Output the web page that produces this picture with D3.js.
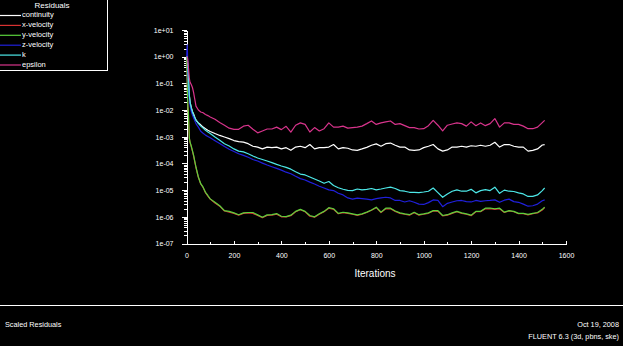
<!DOCTYPE html>
<html>
<head>
<meta charset="utf-8">
<script src="https://cdn.jsdelivr.net/npm/d3@7/dist/d3.min.js"></script>
<style>
  html, body { margin: 0; padding: 0; background: #000; }
  svg { display: block; }
  text { font-family: "Liberation Sans", Arial, sans-serif; fill: #fff; }
</style>
</head>
<body>
<svg id="chart" width="623" height="346"></svg>
<script>
// Iteration numbers at which residuals were recorded
const iterations = [
  1,2,3,4,5,6,8,10,12,15,
  20,25,30,35,40,50,60,70,80,90,
  100,120,140,160,180,200,220,
  240,260,280,300,320,340,360,380,400,420,
  440,460,480,500,520,540,560,580,600,620,
  640,660,680,700,720,740,760,780,800,820,
  840,860,880,900,920,940,960,980,1000,1020,
  1040,1060,1080,1100,1120,1140,1160,1180,1200,1220,
  1240,1260,1280,1300,1320,1340,1360,1380,1400,1420,
  1440,1460,1480,1500,1510
];

const continuity = [
  1.0,1.0,0.89,0.71,0.50,0.35,0.16,0.063,0.035,0.020,
  0.0126,8.9e-3,7.1e-3,5.4e-3,4.2e-3,3.3e-3,2.8e-3,2.3e-3,2.0e-3,1.74e-3,
  1.58e-3,1.32e-3,1.12e-3,9.8e-4,8.5e-4,7.2e-4,6.6e-4,
  6.3e-4,5.5e-4,4.4e-4,4.1e-4,3.5e-4,4.1e-4,3.9e-4,4.1e-4,3.5e-4,3.9e-4,
  3.1e-4,4.1e-4,4.4e-4,3.9e-4,5.1e-4,3.5e-4,3.9e-4,3.9e-4,4.1e-4,5.1e-4,
  3.5e-4,3.9e-4,3.7e-4,3.2e-4,3.1e-4,3.5e-4,4.0e-4,4.8e-4,5.4e-4,4.4e-4,
  5.5e-4,5.8e-4,4.8e-4,4.1e-4,4.1e-4,3.2e-4,3.1e-4,3.2e-4,3.9e-4,4.4e-4,
  5.1e-4,3.5e-4,2.9e-4,3.2e-4,4.1e-4,4.1e-4,4.4e-4,4.1e-4,4.6e-4,4.4e-4,
  4.8e-4,4.4e-4,4.8e-4,6.2e-4,4.1e-4,5.1e-4,5.1e-4,4.4e-4,4.1e-4,4.1e-4,
  2.9e-4,3.1e-4,3.5e-4,4.9e-4,5.1e-4
];

const xVelocity = [
  1.0,0.45,0.14,0.045,0.02,0.012,7e-3,2.3e-3,8.5e-4,6.0e-4,
  4.3e-4,2.9e-4,1.9e-4,1.15e-4,7.0e-5,3.0e-5,1.7e-5,1.25e-5,8.0e-6,6.0e-6,
  4.6e-6,3.3e-6,2.5e-6,1.65e-6,1.5e-6,1.35e-6,1.15e-6,
  1.35e-6,1.4e-6,1.35e-6,1.12e-6,9.3e-7,1.12e-6,1.15e-6,1.25e-6,1.0e-6,1.0e-6,
  1.1e-6,1.55e-6,1.85e-6,1.55e-6,1.05e-6,9.6e-7,1.25e-6,1.55e-6,2.1e-6,1.9e-6,
  1.3e-6,1.42e-6,1.35e-6,1.25e-6,1.12e-6,1.25e-6,1.45e-6,1.75e-6,2.2e-6,1.45e-6,
  2.0e-6,2.0e-6,1.6e-6,1.35e-6,1.25e-6,1.15e-6,1.42e-6,1.15e-6,1.25e-6,1.35e-6,
  1.65e-6,1.6e-6,1.08e-6,1.15e-6,1.35e-6,1.55e-6,1.35e-6,1.25e-6,1.1e-6,1.55e-6,
  1.55e-6,2.0e-6,2.0e-6,1.9e-6,2.0e-6,1.45e-6,1.65e-6,1.55e-6,1.3e-6,1.3e-6,
  1.18e-6,1.3e-6,1.4e-6,1.8e-6,2.2e-6
];

const yVelocity = [
  1.0,0.4,0.12,0.04,0.02,0.013,8e-3,2.5e-3,9e-4,6.3e-4,
  4.5e-4,3.0e-4,2.0e-4,1.2e-4,7.2e-5,3.1e-5,1.74e-5,1.29e-5,8.3e-6,6.3e-6,
  4.7e-6,3.5e-6,2.6e-6,1.7e-6,1.6e-6,1.4e-6,1.2e-6,
  1.4e-6,1.45e-6,1.45e-6,1.18e-6,9.6e-7,1.18e-6,1.2e-6,1.32e-6,1.05e-6,1.02e-6,
  1.15e-6,1.6e-6,1.9e-6,1.6e-6,1.12e-6,1.0e-6,1.3e-6,1.6e-6,2.2e-6,2.0e-6,
  1.35e-6,1.48e-6,1.4e-6,1.29e-6,1.18e-6,1.29e-6,1.5e-6,1.8e-6,2.3e-6,1.5e-6,
  2.1e-6,2.1e-6,1.66e-6,1.4e-6,1.29e-6,1.2e-6,1.48e-6,1.2e-6,1.29e-6,1.4e-6,
  1.7e-6,1.7e-6,1.12e-6,1.2e-6,1.4e-6,1.6e-6,1.4e-6,1.29e-6,1.15e-6,1.6e-6,
  1.6e-6,2.1e-6,2.1e-6,2.0e-6,2.1e-6,1.5e-6,1.7e-6,1.6e-6,1.35e-6,1.35e-6,
  1.23e-6,1.35e-6,1.45e-6,1.9e-6,2.3e-6
];

const zVelocity = [
  1.0,2.0,2.8,1.5,0.6,0.25,0.09,0.045,0.025,0.015,
  9.0e-3,6.5e-3,5.0e-3,4.0e-3,3.1e-3,2.3e-3,1.6e-3,1.35e-3,1.15e-3,1.02e-3,
  9.1e-4,7.1e-4,5.6e-4,4.3e-4,3.4e-4,2.8e-4,2.3e-4,
  2.0e-4,1.7e-4,1.4e-4,1.23e-4,1.03e-4,8.7e-5,7.5e-5,6.5e-5,5.6e-5,4.7e-5,
  4.1e-5,3.3e-5,2.7e-5,2.4e-5,2.0e-5,1.7e-5,1.4e-5,1.2e-5,1.02e-5,9.6e-6,
  7.6e-6,6.6e-6,5.1e-6,4.6e-6,5.0e-6,4.8e-6,4.6e-6,4.3e-6,4.8e-6,5.1e-6,
  5.4e-6,5.1e-6,4.1e-6,4.1e-6,3.6e-6,4.0e-6,3.5e-6,3.0e-6,2.9e-6,3.4e-6,
  4.3e-6,4.1e-6,2.4e-6,3.2e-6,3.6e-6,4.0e-6,4.1e-6,3.7e-6,3.6e-6,4.1e-6,
  3.8e-6,4.0e-6,4.1e-6,4.3e-6,3.5e-6,4.2e-6,4.6e-6,3.7e-6,3.5e-6,3.0e-6,
  2.5e-6,2.6e-6,3.0e-6,4.0e-6,4.3e-6
];

const kResidual = [
  1.0,1.0,0.9,0.7,0.5,0.35,0.17,0.07,0.035,0.02,
  0.012,8.5e-3,6.5e-3,5.2e-3,4.2e-3,3.2e-3,2.5e-3,2.1e-3,1.74e-3,1.5e-3,
  1.32e-3,9.8e-4,7.4e-4,5.5e-4,4.5e-4,3.5e-4,2.9e-4,
  2.7e-4,2.3e-4,1.9e-4,1.6e-4,1.4e-4,1.23e-4,1.07e-4,9.2e-5,8.0e-5,7.1e-5,
  6.1e-5,4.9e-5,4.0e-5,3.7e-5,3.1e-5,2.6e-5,2.2e-5,1.8e-5,2.1e-5,1.5e-5,
  1.23e-5,1.08e-5,9.8e-6,9.6e-6,1.1e-5,1.02e-5,1.07e-5,1.15e-5,1.02e-5,1.1e-5,
  1.2e-5,1.29e-5,1.15e-5,9.6e-6,9.1e-6,8.3e-6,8.3e-6,8.1e-6,8.5e-6,9.1e-6,
  1.2e-5,8.1e-6,5.4e-6,7.2e-6,9.1e-6,1.02e-5,9.1e-6,9.1e-6,1.07e-5,7.9e-6,
  9.6e-6,1.05e-5,9.6e-6,1.29e-5,7.6e-6,1.0e-5,9.1e-6,8.9e-6,7.9e-6,7.2e-6,
  5.8e-6,5.8e-6,6.6e-6,9.6e-6,1.2e-5
];

const epsilon = [
  1.0,1.0,0.95,0.9,0.8,0.6,0.4,0.25,0.15,0.11,
  0.09,0.07,0.045,0.025,0.014,0.010,8.5e-3,7.9e-3,6.8e-3,6.2e-3,
  5.5e-3,4.5e-3,3.4e-3,2.7e-3,2.1e-3,1.9e-3,1.9e-3,
  2.5e-3,2.7e-3,1.9e-3,1.4e-3,1.65e-3,1.95e-3,1.95e-3,2.3e-3,1.85e-3,2.45e-3,
  1.5e-3,2.7e-3,3.3e-3,2.9e-3,1.5e-3,2.2e-3,1.65e-3,2.0e-3,3.3e-3,2.3e-3,
  2.3e-3,2.5e-3,2.1e-3,2.2e-3,2.3e-3,2.5e-3,3.1e-3,3.9e-3,2.9e-3,3.3e-3,
  3.6e-3,3.9e-3,2.9e-3,3.1e-3,2.6e-3,2.2e-3,2.2e-3,1.95e-3,2.0e-3,2.6e-3,
  4.1e-3,2.7e-3,1.65e-3,2.7e-3,3.0e-3,3.3e-3,3.1e-3,2.5e-3,3.6e-3,2.6e-3,
  3.3e-3,2.6e-3,3.1e-3,4.8e-3,2.3e-3,3.3e-3,3.3e-3,2.9e-3,2.9e-3,2.5e-3,
  2.0e-3,2.0e-3,2.3e-3,3.4e-3,4.1e-3
];

const seriesNames = ["continuity", "x-velocity", "y-velocity", "z-velocity", "k", "epsilon"];
const seriesValues = [continuity, xVelocity, yVelocity, zVelocity, kResidual, epsilon];
const seriesColors = ["#ffffff", "#d83232", "#5ad23c", "#2020dc", "#4de8e8", "#d8348c"];

const yTickValues = [1e-7, 1e-6, 1e-5, 1e-4, 1e-3, 1e-2, 1e-1, 1e0, 1e1];
const yTickLabels = ["1e-07", "1e-06", "1e-05", "1e-04", "1e-03", "1e-02", "1e-01", "1e+00", "1e+01"];
const xTickValues = [0, 200, 400, 600, 800, 1000, 1200, 1400, 1600];
const xTickLabels = ["0", "200", "400", "600", "800", "1000", "1200", "1400", "1600"];

const svg = d3.select("#chart");
svg.append("rect").attr("width", 623).attr("height", 346).attr("fill", "#000");

const x = d3.scaleLinear().domain([0, 1600]).range([186.5, 566]);
const y = d3.scaleLog().domain([1e-7, 1e1]).range([243.5, 30]);

// minor log ticks (2..9 in each decade)
const minorY = [];
yTickValues.slice(0, -1).forEach(d => { for (let m = 2; m <= 9; m++) minorY.push(d * m); });

const yMinor = svg.append("g").attr("transform", "translate(186.5,0)")
  .call(d3.axisLeft(y).tickValues(minorY).tickSize(3).tickSizeOuter(0).tickFormat(""));
const yAxis = svg.append("g").attr("transform", "translate(186.5,0)")
  .call(d3.axisLeft(y).tickValues(yTickValues).tickSize(5).tickSizeOuter(0).tickPadding(8)
    .tickFormat((d, i) => yTickLabels[i]));

const xMinor = svg.append("g").attr("transform", "translate(0,243.5)")
  .call(d3.axisBottom(x).tickValues([100,300,500,700,900,1100,1300,1500]).tickSize(-2).tickSizeOuter(0).tickFormat(""));
const xAxis = svg.append("g").attr("transform", "translate(0,243.5)")
  .call(d3.axisBottom(x).tickValues(xTickValues).tickSize(-3).tickSizeOuter(0).tickPadding(10)
    .tickFormat((d, i) => xTickLabels[i]));

[yMinor, yAxis, xMinor, xAxis].forEach(g => {
  g.selectAll("path, line").attr("stroke", "#fff").attr("stroke-width", 1).attr("shape-rendering", "crispEdges");
  g.selectAll("text").attr("fill", "#fff").style("font-size", "7px")
    .style("font-family", "'Liberation Sans', Arial, sans-serif");
});

// residual curves
const line = d3.line().x((d, i) => x(iterations[i])).y(d => y(d));
seriesValues.forEach((vals, s) => {
  svg.append("path")
    .datum(vals)
    .attr("d", line)
    .attr("fill", "none")
    .attr("stroke", seriesColors[s])
    .attr("stroke-width", 1.2)
    .attr("stroke-linejoin", "round");
});

svg.append("text").attr("x", 375).attr("y", 274).attr("text-anchor", "middle")
  .attr("dominant-baseline", "middle").style("font-size", "10px").text("Iterations");

// legend box
const legend = svg.append("g");
legend.append("line").attr("x1", 107.5).attr("x2", 107.5).attr("y1", 0).attr("y2", 70.5)
  .attr("stroke", "#fff").attr("shape-rendering", "crispEdges");
legend.append("line").attr("x1", 0).attr("x2", 107.5).attr("y1", 70.5).attr("y2", 70.5)
  .attr("stroke", "#fff").attr("shape-rendering", "crispEdges");
legend.append("text").attr("x", 52).attr("y", 6).attr("text-anchor", "middle")
  .attr("dominant-baseline", "middle").style("font-size", "8px").text("Residuals");
seriesNames.forEach((name, i) => {
  const ly = 15.5 + i * 9.9;
  legend.append("line").attr("x1", 0).attr("x2", 21).attr("y1", ly).attr("y2", ly)
    .attr("stroke", seriesColors[i]).attr("stroke-width", 1.2);
  legend.append("text").attr("x", 22).attr("y", ly).attr("dominant-baseline", "middle")
    .style("font-size", "7.5px").text(name);
});

// footer
svg.append("line").attr("x1", 0).attr("x2", 623).attr("y1", 305.5).attr("y2", 305.5)
  .attr("stroke", "#fff").attr("shape-rendering", "crispEdges");
svg.append("text").attr("x", 5).attr("y", 325.5).attr("dominant-baseline", "middle")
  .style("font-size", "7.3px").text("Scaled Residuals");
svg.append("text").attr("x", 619).attr("y", 325.5).attr("text-anchor", "end").attr("dominant-baseline", "middle")
  .style("font-size", "7.3px").text("Oct 19, 2008");
svg.append("text").attr("x", 619).attr("y", 337.5).attr("text-anchor", "end").attr("dominant-baseline", "middle")
  .style("font-size", "7.3px").text("FLUENT 6.3 (3d, pbns, ske)");
</script>
</body>
</html>
